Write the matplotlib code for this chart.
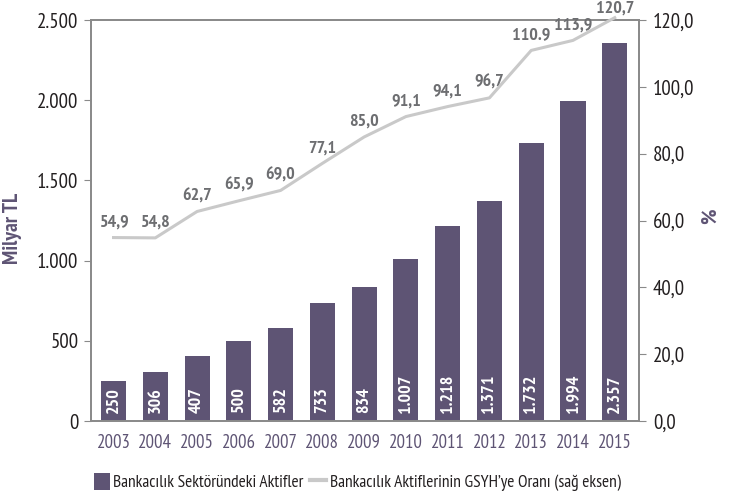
import matplotlib
matplotlib.use("Agg")
import matplotlib.pyplot as plt
from matplotlib.lines import Line2D
from matplotlib.patches import Patch

plt.rcParams["font.family"] = ["PT Sans Narrow", "DejaVu Sans"]

years = ["2003", "2004", "2005", "2006", "2007", "2008", "2009",
         "2010", "2011", "2012", "2013", "2014", "2015"]
assets = [250, 306, 407, 500, 582, 733, 834, 1007, 1218, 1371, 1732, 1994, 2357]
asset_labels = ["250", "306", "407", "500", "582", "733", "834",
                "1.007", "1.218", "1.371", "1.732", "1.994", "2.357"]
gdp_ratio = [54.9, 54.8, 62.7, 65.9, 69.0, 77.1, 85.0, 91.1, 94.1, 96.7, 110.9, 113.9, 120.7]
ratio_labels = ["54,9", "54,8", "62,7", "65,9", "69,0", "77,1", "85,0",
                "91,1", "94,1", "96,7", "110.9", "113,9", "120,7"]

left_ticks = [0, 500, 1000, 1500, 2000, 2500]
left_tick_labels = ["0", "500", "1.000", "1.500", "2.000", "2.500"]
right_ticks = [0, 20, 40, 60, 80, 100, 120]
right_tick_labels = ["0,0", "20,0", "40,0", "60,0", "80,0", "100,0", "120,0"]

BAR = "#5e5474"
LINE = "#c9c9c9"
SPINE = "#8a8a8a"
VAL = "#6d6e71"
TXT = "#231f20"

fig = plt.figure(figsize=(7.32, 4.99), dpi=100)
ax = fig.add_axes([0.1243, 0.1563, 0.7486, 0.8036])
x = list(range(len(years)))

ax.bar(x, assets, width=0.6, color=BAR, zorder=2)
# değer etiketleri çubuk içinde, dikey
for xi, lab in zip(x, asset_labels):
    ax.annotate(lab, (xi, 0), xytext=(0, 6), textcoords="offset points",
                rotation=90, ha="center", va="bottom", color="white",
                fontsize=13, fontweight="bold", zorder=3)

ax.set_xlim(-0.54, len(years) - 0.42)
ax.set_ylim(0, 2500)
ax.set_yticks(left_ticks)
ax.set_yticklabels(left_tick_labels, fontsize=15, color=TXT)
ax.set_xticks(x)
ax.set_xticklabels(years, fontsize=13.5, color=BAR)
ax.tick_params(axis="x", length=0, pad=9)
ax.tick_params(axis="y", length=5, color=SPINE, direction="out", pad=4)
ax.set_ylabel("Milyar TL", fontsize=15.5, fontweight="bold", color=BAR)
ax.yaxis.set_label_coords(-0.126, 0.48)
for s in ax.spines.values():
    s.set_color(SPINE)
    s.set_linewidth(1.3)

ax2 = ax.twinx()
ax2.plot(x, gdp_ratio, color=LINE, linewidth=2.2, zorder=4, clip_on=False)
for i, (xi, v, lab) in enumerate(zip(x, gdp_ratio, ratio_labels)):
    dy = 1 if i == len(x) - 1 else 5
    ax2.annotate(lab, (xi, v), xytext=(0, dy), textcoords="offset points",
                 ha="center", va="bottom", color=VAL, fontsize=13,
                 fontweight="bold", annotation_clip=False)
ax2.set_ylim(0, 120)
ax2.set_yticks(right_ticks)
ax2.set_yticklabels(right_tick_labels, fontsize=15, color=TXT)
ax2.tick_params(axis="y", length=5, color=SPINE, direction="out", pad=5)
ax2.set_ylabel("%", fontsize=15.5, fontweight="bold", color=BAR)
ax2.yaxis.set_label_coords(1.112, 0.51)
for s in ax2.spines.values():
    s.set_color(SPINE)
    s.set_linewidth(1.3)

handles = [Patch(facecolor=BAR, label="Bankacılık Sektöründeki Aktifler"),
           Line2D([0], [0], color=LINE, linewidth=3,
                  label="Bankacılık Aktiflerinin GSYH\u2019ye Oranı (sağ eksen)")]
fig.legend(handles=handles, loc="center", bbox_to_anchor=(0.488, 0.034), ncol=2,
           frameon=False, fontsize=12.5, handlelength=0.9, handleheight=1.1,
           handletextpad=0.2, columnspacing=0.4, labelcolor=TXT)

fig.savefig("out.png", dpi=100)
